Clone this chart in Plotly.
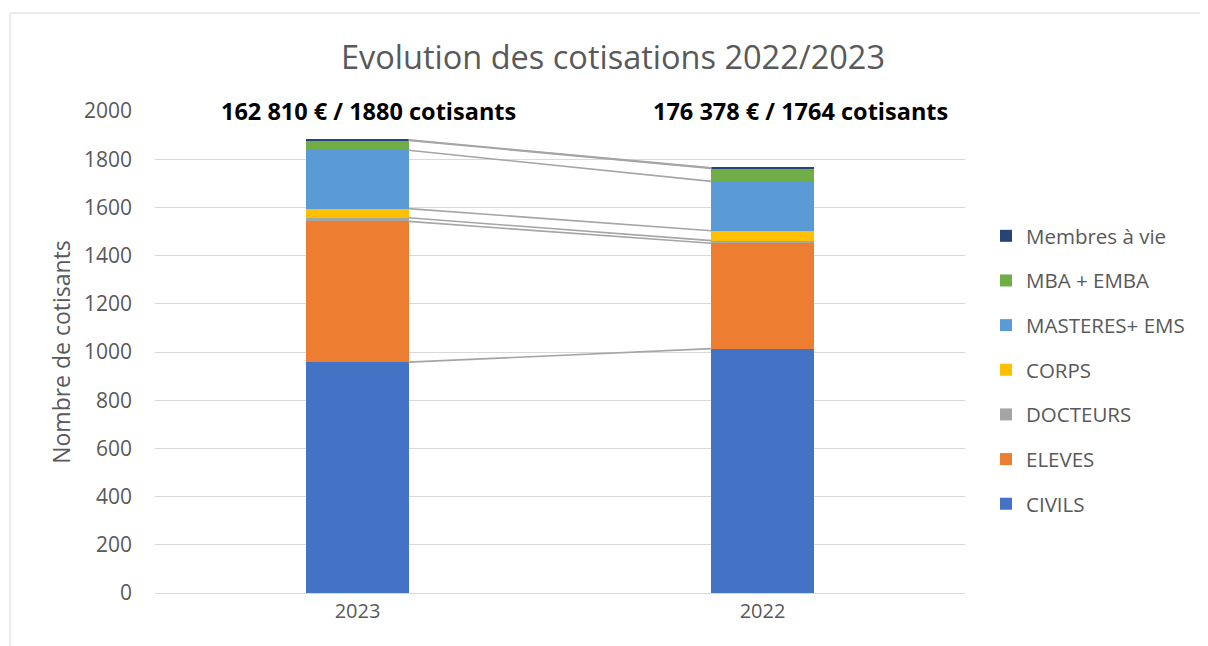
import plotly.graph_objects as go

years = ["2023", "2022"]
series_names = ["CIVILS", "ELEVES", "DOCTEURS", "CORPS", "MASTERES+ EMS", "MBA + EMBA", "Membres à vie"]
civils = [958, 1014]
eleves = [584, 437]
docteurs = [15, 11]
corps = [38, 41]
masteres = [242, 205]
mba = [41, 54]
membres_vie = [2, 2]
labels = ["162 810 € / 1880 cotisants", "176 378 € / 1764 cotisants"]
y_ticks = [0, 200, 400, 600, 800, 1000, 1200, 1400, 1600, 1800, 2000]

colors = ["#4472C4", "#ED7D31", "#A5A5A5", "#FFC000", "#5B9BD5", "#70AD47", "#264478"]
values = [civils, eleves, docteurs, corps, masteres, mba, membres_vie]

FONT = "'Open Sans', 'Noto Sans', sans-serif"
OFF = 8  # default body margin of the html page
W, H = 1208 - OFF, 646 - OFF
L, R, T, B = 155 - OFF, 965 - OFF, 111 - OFF, 593 - OFF
BAR_W = 0.252
xpos = list(range(len(years)))

fig = go.Figure()

# series lines (cumulative tops connecting bars)
cum = [0] * len(years)
for vals in values:
    cum = [c + v for c, v in zip(cum, vals)]
    fig.add_trace(go.Scatter(
        x=[xpos[0] + BAR_W / 2, xpos[1] - BAR_W / 2], y=[cum[0], cum[1]],
        mode="lines", line=dict(color="#A5A5A5", width=1.6),
        showlegend=False, hoverinfo="skip", legendgroup="lines"))

n = len(series_names)
for i, (name, vals, col) in enumerate(zip(series_names, values, colors)):
    fig.add_trace(go.Bar(
        x=xpos, y=vals, name=name, marker=dict(color=col, line=dict(width=0)),
        width=BAR_W, legendgroup=f"g{i}", legendrank=100 + (n - i)))


def px_x(px):
    return (px - OFF - L) / (R - L)


def px_y(py):
    return (B - (py - OFF)) / (B - T)


# white boxes hiding the top gridline behind the total labels
for x0, x1 in [(197, 560), (610, 975)]:
    fig.add_shape(type="rect", xref="paper", yref="y", x0=px_x(x0), x1=px_x(x1),
                  y0=1975, y1=2025, line=dict(width=0), fillcolor="#ffffff", layer="above")

label_x = [368, 800]
for i, t in enumerate(labels):
    fig.add_annotation(
        x=px_x(label_x[i]), xref="paper", y=2000, yref="y",
        text=f"<b>{t}</b>", showarrow=False,
        font=dict(family=FONT, size=23.5, color="#000000"),
        xanchor="center", yanchor="middle")

# outer frame
fig.add_shape(type="rect", xref="paper", yref="paper",
              x0=px_x(10), x1=px_x(1240),
              y0=px_y(680), y1=px_y(13),
              line=dict(color="#D9D9D9", width=1), fillcolor="rgba(0,0,0,0)", layer="below")

fig.update_layout(
    width=W, height=H,
    barmode="stack",
    margin=dict(l=L, r=W - R, t=T, b=H - B),
    paper_bgcolor="#ffffff", plot_bgcolor="#ffffff",
    font=dict(family=FONT, color="#595959"),
    title=dict(text="Evolution des cotisations 2022/2023", xref="container",
               x=(613 - OFF) / W, xanchor="center",
               y=1 - (58 - OFF) / H, yanchor="middle",
               font=dict(size=32.5, color="#595959")),
    xaxis=dict(range=[-0.5, 1.5], tickvals=xpos, ticktext=years,
               showgrid=False, zeroline=False, showline=True, linecolor="#D9D9D9",
               linewidth=1, ticks="", tickfont=dict(size=20, color="#595959"),
               fixedrange=True),
    yaxis=dict(range=[0, 2000], tickvals=y_ticks, showgrid=True, gridcolor="#D9D9D9",
               gridwidth=1, zeroline=False, showline=False, ticks="",
               tickfont=dict(size=21, color="#595959"), ticklabelstandoff=22,
               title=dict(text="Nombre de cotisants", font=dict(size=23, color="#595959"),
                          standoff=6)),
    legend=dict(x=(978 - L) / (R - L), xanchor="left", y=(B - 208) / (B - T), yanchor="top",
                traceorder="grouped", tracegroupgap=15,
                font=dict(size=20.5, color="#595959"), bgcolor="rgba(0,0,0,0)",
                itemwidth=30),
    showlegend=True,
    bargap=0,
)

fig.write_html("out.html")
